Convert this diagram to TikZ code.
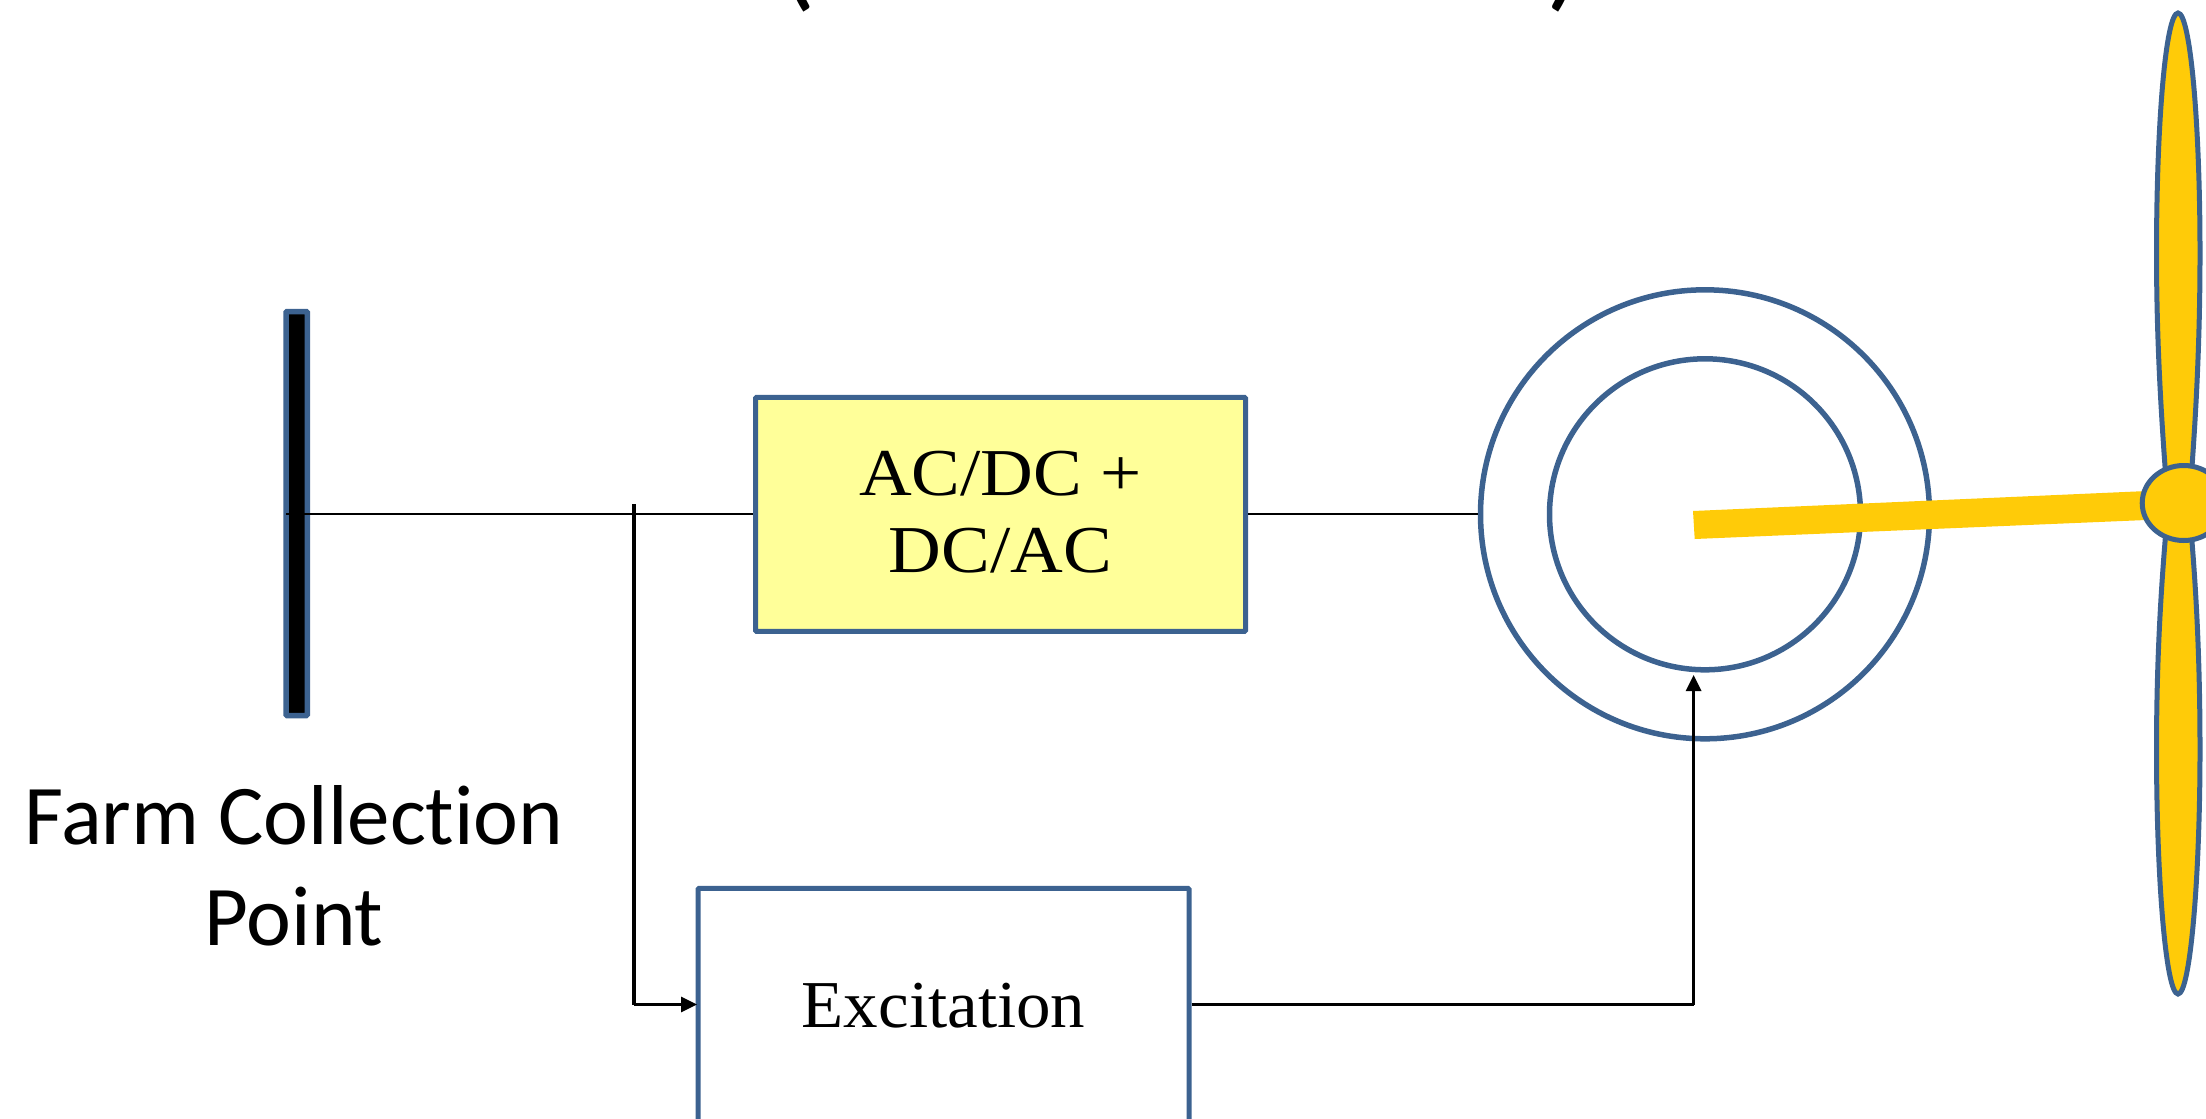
\documentclass[tikz,border=0pt]{standalone}
\usepackage{fontspec}
\setmainfont{Liberation Serif}
\newfontfamily\boxfont[FakeStretch=1.09]{Liberation Serif}
\newfontfamily\excfont[FakeStretch=1.03]{Liberation Serif}
\newfontfamily\labelfont[Ligatures=NoCommon]{Carlito}
\usetikzlibrary{arrows.meta,shapes.geometric}
\definecolor{edgeblue}{HTML}{3C6290}
\definecolor{bladeyellow}{HTML}{FFCB08}
\definecolor{boxyellow}{HTML}{FFFF99}
\tikzset{
  x=1pt,y=-1pt,
  blockbox/.style={draw=edgeblue,line width=5pt,rounded corners=1pt,rectangle,inner sep=0pt},
  ringnode/.style={circle,draw=edgeblue,line width=5.5pt,inner sep=0pt,fill=none},
  thinwire/.style={black,line width=2pt},
  sigwire/.style={black,line width=3pt},
  sigarrow/.style={sigwire,-{Triangle[length=16pt,width=15pt]}},
  blade/.style={fill=bladeyellow,draw=edgeblue,line width=5pt},
}
\begin{document}
\begin{tikzpicture}
\useasboundingbox (0,0) rectangle (2206,1119);
\clip (0,0) rectangle (2206,1119);
% clipped title brackets
\node[font=\labelfont\fontsize{120}{130}\selectfont,anchor=base] (lp) at (798,-5) {(};
\node[font=\labelfont\fontsize{120}{130}\selectfont,anchor=base] (rp) at (1565,-5) {)};
% rings
\node[ringnode,minimum size=449pt] (outer) at (1705,514.3) {};
\node[ringnode,minimum size=311pt] (inner) at (1705,514.3) {};
% bus
\node[draw=edgeblue,fill=black,line width=5.5pt,rounded corners=1pt,minimum width=21.2pt,minimum height=404pt,inner sep=0pt] (bus) at (296.7,513.5) {};
% blocks
\node[blockbox,fill=boxyellow,minimum width=490pt,minimum height=234pt,align=center,
      font=\boxfont\fontsize{67}{76.7}\selectfont] (conv) at (1000.5,514.3) {AC/DC +\\DC/AC\rule[-4.6pt]{0pt}{4.6pt}};
\node[blockbox,fill=white,minimum width=491pt,minimum height=235pt,anchor=north west,
      font=\excfont\fontsize{67}{76}\selectfont] (exc) at (695.5,885.8) {Excitation};
% label
\node[font=\labelfont\fontsize{85}{101}\selectfont,align=center,anchor=base] (farm) at (294,945) {Farm Collection\\Point};
% coordinates
\coordinate (busstart) at (286,514.3);
\coordinate (taptop) at (634,504);
\coordinate (tapbot) at (634,1004.5);
\coordinate (riser) at (1693.6,1004.5);
\coordinate (risertop) at (1693.6,675);
% wires
\draw[thinwire] (busstart) -- (conv.west);
\draw[thinwire] (conv.east) -- (outer.west);
\draw[sigwire,line width=3.6pt] (taptop) -- (tapbot);
\draw[sigarrow,shorten >=-1.5pt] (tapbot) -- (exc.west |- tapbot);
\draw[sigwire] (exc.east |- riser) -- (riser);
\draw[sigarrow] (riser) -- (risertop);
% shaft
\fill[bladeyellow] (1693,511) -- (2170,490) -- (2170,519) -- (1694.7,539) -- cycle;
% blades
\path[blade] (2166,480) .. controls (2160,400) and (2156.5,330) .. (2156.5,253)
   .. controls (2156.5,120) and (2166,13) .. (2178,13)
   .. controls (2190,13) and (2200,120) .. (2200,253)
   .. controls (2200,330) and (2197,400) .. (2191,480) -- cycle;
\path[blade] (2166,530) .. controls (2160,600) and (2156.5,670) .. (2156.5,750)
   .. controls (2156.5,880) and (2166,994) .. (2178,994)
   .. controls (2190,994) and (2200,880) .. (2200,750)
   .. controls (2200,670) and (2197,600) .. (2191,530) -- cycle;
% hub
\node[ellipse,draw=edgeblue,fill=bladeyellow,line width=5pt,minimum width=83pt,minimum height=75pt,inner sep=0pt] (hub) at (2183.7,503) {};
\end{tikzpicture}
\end{document}
